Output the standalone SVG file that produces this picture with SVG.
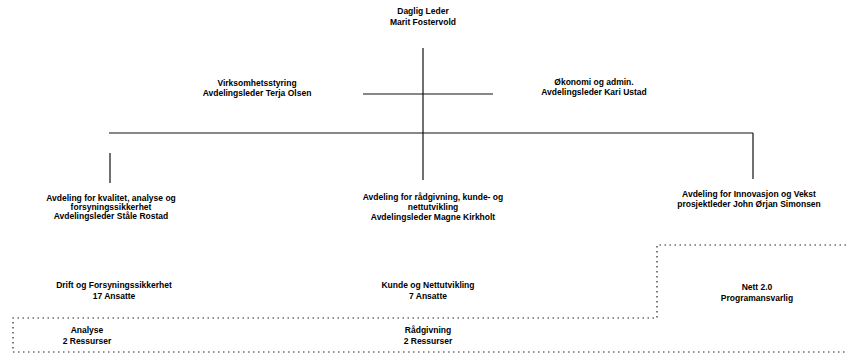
<svg xmlns="http://www.w3.org/2000/svg" width="846" height="356" viewBox="0 0 846 356">
<style>
text{font-family:"Liberation Sans",Arial,sans-serif;font-weight:bold;font-size:8.5px;fill:#000;text-anchor:middle}
.ln{stroke:#111;stroke-width:1.2;fill:none}
.dot{stroke:#222;stroke-width:1.2;fill:none;stroke-dasharray:1.5 3.5}
</style>
<rect width="846" height="356" fill="#fff"/>
<g id="connectors">
<line class="ln" x1="423" y1="48" x2="423" y2="180"/>
<line class="ln" x1="363" y1="94" x2="493" y2="94"/>
<line class="ln" x1="109" y1="133" x2="753" y2="133"/>
<line class="ln" x1="110" y1="153" x2="110" y2="183"/>
<line class="ln" x1="753" y1="133" x2="753" y2="179"/>
</g>
<g id="resource-area">
<path class="dot" d="M846,245 H657 V318 H13 V352 H846"/>
</g>
<g id="ceo"><text x="423" y="14">Daglig Leder</text><text x="423" y="25">Marit Fostervold</text></g>
<g id="staff-virksomhet"><text x="257" y="86">Virksomhetsstyring</text><text x="257" y="96">Avdelingsleder Terja Olsen</text></g>
<g id="staff-okonomi"><text x="594" y="85">Økonomi og admin.</text><text x="594" y="95">Avdelingsleder Kari Ustad</text></g>
<g id="dept-kvalitet"><text x="111" y="201">Avdeling for kvalitet, analyse og</text><text x="111" y="210">forsyningssikkerhet</text><text x="111" y="219">Avdelingsleder Ståle Rostad</text></g>
<g id="dept-radgivning"><text x="433" y="200">Avdeling for rådgivning, kunde- og</text><text x="433" y="210">nettutvikling</text><text x="433" y="220">Avdelingsleder Magne Kirkholt</text></g>
<g id="dept-innovasjon"><text x="749" y="197">Avdeling for Innovasjon og Vekst</text><text x="749" y="207">prosjektleder John Ørjan Simonsen</text></g>
<g id="unit-drift"><text x="114" y="288">Drift og Forsyningssikkerhet</text><text x="114" y="299">17 Ansatte</text></g>
<g id="unit-kunde"><text x="428" y="288">Kunde og Nettutvikling</text><text x="428" y="299">7 Ansatte</text></g>
<g id="unit-nett"><text x="757" y="290">Nett 2.0</text><text x="757" y="301">Programansvarlig</text></g>
<g id="res-analyse"><text x="87" y="333">Analyse</text><text x="87" y="344">2 Ressurser</text></g>
<g id="res-radgivning"><text x="428" y="333">Rådgivning</text><text x="428" y="344">2 Ressurser</text></g>
</svg>
